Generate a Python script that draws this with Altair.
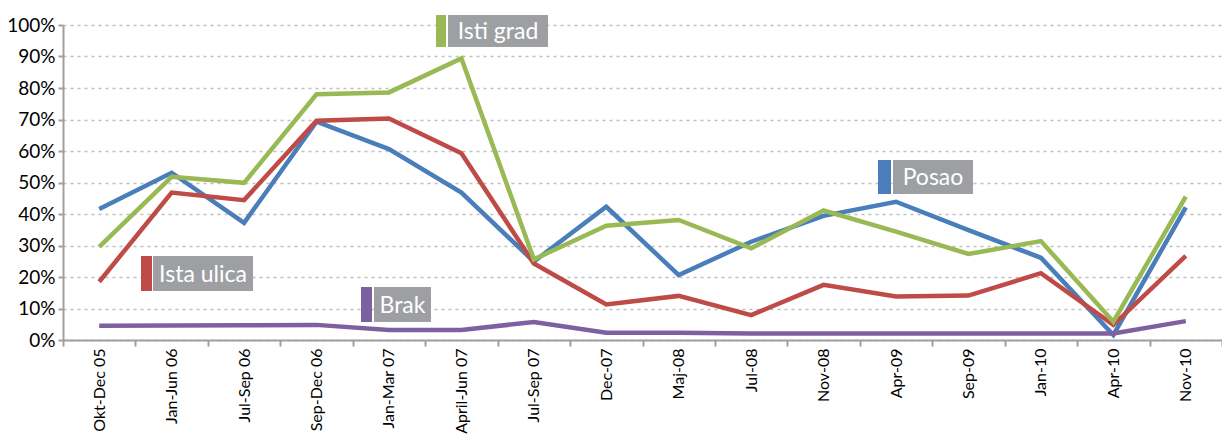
import altair as alt
import pandas as pd

categories = ["Okt-Dec 05", "Jan-Jun 06", "Jul-Sep 06", "Sep-Dec 06", "Jan-Mar 07",
              "April-Jun 07", "Jul-Sep 07", "Dec-07", "Maj-08", "Jul-08", "Nov-08",
              "Apr-09", "Sep-09", "Jan-10", "Apr-10", "Nov-10"]

posao      = [41.6, 53.1, 37.2, 69.3, 60.6, 46.8, 24.9, 42.3, 20.6, 31.2, 39.4, 43.9, 34.9, 26.1, 1.6, 42.1]
ista_ulica = [18.5, 46.8, 44.4, 69.6, 70.3, 59.3, 24.3, 11.3, 14.0, 7.9, 17.5, 13.8, 14.1, 21.2, 4.8, 26.7]
isti_grad  = [29.6, 51.8, 49.9, 78.0, 78.6, 89.4, 25.6, 36.3, 38.1, 29.1, 41.1, 34.4, 27.3, 31.4, 5.8, 45.5]
brak       = [4.5, 4.6, 4.7, 4.8, 3.2, 3.2, 5.7, 2.3, 2.3, 2.1, 2.1, 2.1, 2.1, 2.1, 2.1, 6.0]

series_names = ["Posao", "Ista ulica", "Isti grad", "Brak"]
series_values = [posao, ista_ulica, isti_grad, brak]
series_colors = ["#4a7ebb", "#be4b48", "#98b954", "#7d60a0"]

rows = []
for name, vals in zip(series_names, series_values):
    for i, (c, v) in enumerate(zip(categories, vals)):
        rows.append({"cat": c, "val": v / 100.0, "series": name, "idx": i})
df = pd.DataFrame(rows)

FONT = "Lato"
W, H = 1159, 315

x_enc = alt.X("cat:N", sort=categories, title=None,
              scale=alt.Scale(paddingInner=0, paddingOuter=0),
              axis=alt.Axis(labelAngle=-90, labelFont=FONT, labelFontSize=16,
                            labelColor="#000", labelPadding=2, tickBand="extent",
                            tickSize=6, tickWidth=2, tickColor="#a0a0a0",
                            domainColor="#a0a0a0", domainWidth=2, grid=False))
y_enc = alt.Y("val:Q", title=None,
              scale=alt.Scale(domain=[0, 1], nice=False),
              axis=alt.Axis(format=".0%", values=[i / 10 for i in range(11)],
                            labelFont=FONT, labelFontSize=19, labelColor="#000",
                            labelPadding=3, tickSize=5, tickWidth=2,
                            tickColor="#a0a0a0", domainColor="#a0a0a0",
                            domainWidth=2, grid=True, gridDash=[3, 4],
                            gridColor="#c0c0c0", gridWidth=1.5))

lines = alt.Chart(df).mark_line(strokeWidth=4.5, strokeJoin="miter").encode(
    x=x_enc, y=y_enc,
    color=alt.Color("series:N", scale=alt.Scale(domain=series_names, range=series_colors),
                    legend=None),
    order="idx:Q",
)

one = pd.DataFrame({"a": [0]})

def label_box(bar_x1, bar_x2, box_x1, box_x2, y1, y2, color, text):
    bar = alt.Chart(one).mark_rect(color=color).encode(
        x=alt.value(bar_x1), x2=alt.value(bar_x2), y=alt.value(y1), y2=alt.value(y2))
    box = alt.Chart(one).mark_rect(color="#9d9fa2").encode(
        x=alt.value(box_x1), x2=alt.value(box_x2), y=alt.value(y1), y2=alt.value(y2))
    txt = alt.Chart(one).mark_text(color="white", font=FONT, fontSize=23,
                                   align="center", baseline="middle").encode(
        x=alt.value((box_x1 + box_x2) / 2), y=alt.value((y1 + y2) / 2 + 1),
        text=alt.value(text))
    return [bar, box, txt]

labels = []
labels += label_box(373, 383, 385, 485, -10, 22, "#98b954", "Isti grad")
labels += label_box(815, 828, 830, 910, 135, 169, "#4a7ebb", "Posao")
labels += label_box(78, 89, 90, 190, 231, 266, "#be4b48", "Ista ulica")
labels += label_box(298, 309, 311, 368, 262, 297, "#7d60a0", "Brak")

chart = alt.layer(lines, *labels).properties(
    width=W, height=H,
    autosize=alt.AutoSizeParams(type="none"),
    padding={"left": 55, "top": 17, "right": 0, "bottom": 95},
    background="white",
).configure_view(stroke=None)

chart.save("out.html", embed_options={"renderer": "svg", "actions": False})
